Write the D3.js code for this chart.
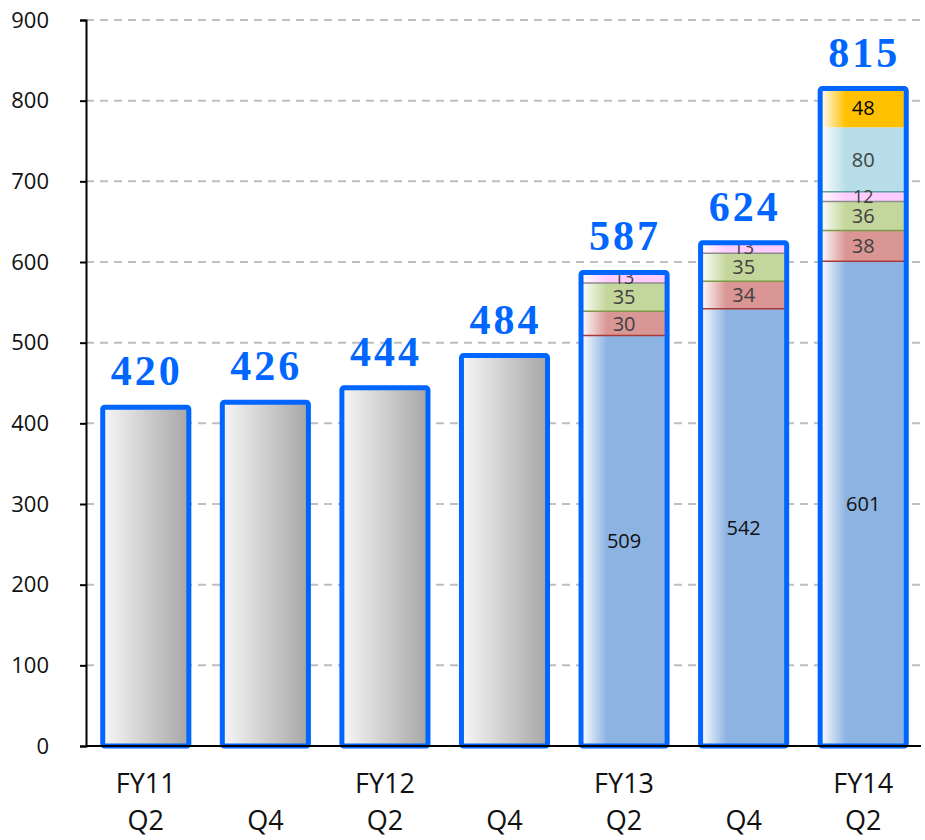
<!DOCTYPE html>
<html>
<head>
<meta charset="utf-8">
<script src="https://cdn.jsdelivr.net/npm/d3@7"></script>
<style>
  body { margin: 0; background: #fff; }
  svg { display: block; }
</style>
</head>
<body>
<div id="chart"></div>
<script>
// data
const yearLabels = ["FY11", "", "FY12", "", "FY13", "", "FY14"];
const quarterLabels = ["Q2", "Q4", "Q2", "Q4", "Q2", "Q4", "Q2"];
const totals = [420, 426, 444, 484, 587, 624, 815];
const oldValues = [420, 426, 444, 484, 0, 0, 0];     // gray bars
const baseValues = [0, 0, 0, 0, 509, 542, 601];       // blue part
const redValues = [0, 0, 0, 0, 30, 34, 38];
const greenValues = [0, 0, 0, 0, 35, 35, 36];
const pinkValues = [0, 0, 0, 0, 13, 13, 12];
const cyanValues = [0, 0, 0, 0, 0, 0, 80];
const orangeValues = [0, 0, 0, 0, 0, 0, 48];
const yTicks = [0, 100, 200, 300, 400, 500, 600, 700, 800, 900];

const W = 925, H = 840;
const svg = d3.select("#chart").append("svg")
  .attr("width", W).attr("height", H);

var x = d3.scaleBand()
  .domain(d3.range(totals.length))
  .range([86, 923])
  .paddingInner(0.28)
  .paddingOuter(0.14);
var y = d3.scaleLinear().domain([0, 900]).range([746, 20]);

// series config (styles)
const series = [
  {vals: oldValues,    fill: "#a6a6a6", line: "none",    text: null,      grad: "gray"},
  {vals: baseValues,   fill: "#8db3e2", line: "none",    text: "#111",    grad: "blue"},
  {vals: redValues,    fill: "#d99694", line: "#a83a37", text: "#404040", grad: "red"},
  {vals: greenValues,  fill: "#c3d69b", line: "#7f9a48", text: "#404040", grad: "green"},
  {vals: pinkValues,   fill: "#ffccff", line: "#8c8c8c", text: "#404040", grad: "pink"},
  {vals: cyanValues,   fill: "#b7dde8", line: "#5f9e9e", text: "#404040", grad: "cyan"},
  {vals: orangeValues, fill: "#ffc000", line: "none",    text: "#000",    grad: "orange"}
];

var defs = svg.append("defs");
series.forEach(function(s) {
  var g = defs.append("linearGradient").attr("id", "g_" + s.grad)
    .attr("x1", "0%").attr("x2", "100%").attr("y1", "0%").attr("y2", "0%");
  if (s.grad == "gray") {
    g.append("stop").attr("offset", "0%").attr("stop-color", "#f7f7f7");
    g.append("stop").attr("offset", "100%").attr("stop-color", "#a6a6a6");
  } else {
    g.append("stop").attr("offset", "0%").attr("stop-color", "#ffffff");
    g.append("stop").attr("offset", "30%").attr("stop-color", s.fill);
    g.append("stop").attr("offset", "100%").attr("stop-color", s.fill);
  }
});

// gridlines
svg.append("g").selectAll("line")
  .data(yTicks.filter(d => d > 0))
  .enter().append("line")
  .attr("x1", 86).attr("x2", W)
  .attr("y1", d => y(d)).attr("y2", d => y(d))
  .attr("stroke", "#bfbfbf").attr("stroke-width", 2)
  .attr("stroke-dasharray", "8,6");

// y axis
var yAxis = svg.append("g")
  .attr("transform", "translate(86,0)")
  .call(d3.axisLeft(y).tickValues(yTicks).tickSize(6).tickPadding(31).tickFormat(d3.format("d")));
yAxis.select(".domain").attr("stroke", "#000").attr("stroke-width", 2);
yAxis.selectAll(".tick line").attr("stroke", "#000").attr("stroke-width", 2);
yAxis.selectAll("text")
  .style("font-family", "'Open Sans', sans-serif")
  .style("font-size", "22px").attr("fill", "#111");

// stacked segments
var bw = x.bandwidth();
totals.forEach(function(t, i) {
  var acc = 0;
  series.forEach(function(s) {
    var v = s.vals[i];
    if (!v) return;
    var y0 = y(acc), y1 = y(acc + v);
    svg.append("rect")
      .attr("x", x(i)).attr("width", bw)
      .attr("y", y1).attr("height", y0 - y1)
      .attr("fill", "url(#g_" + s.grad + ")");
    if (s.line != "none") {
      svg.append("line")
        .attr("x1", x(i)).attr("x2", x(i) + bw)
        .attr("y1", y0).attr("y2", y0)
        .attr("stroke", s.line).attr("stroke-width", 1.5);
    }
    acc += v;
  });
});

// segment labels (drawn above the segments)
totals.forEach(function(t, i) {
  var acc = 0;
  series.forEach(function(s) {
    var v = s.vals[i];
    if (!v) return;
    if (s.text) {
      svg.append("text")
        .attr("x", x(i) + bw / 2)
        .attr("y", y(acc + v / 2))
        .attr("dy", "0.36em")
        .attr("text-anchor", "middle")
        .style("font-family", "'Open Sans', sans-serif")
        .style("font-size", v < 20 ? "18px" : "20px")
        .attr("fill", s.text)
        .text(v);
    }
    acc += v;
  });
});

// bar outlines
svg.append("g").selectAll("rect")
  .data(totals)
  .enter().append("rect")
  .attr("x", (d, i) => x(i)).attr("width", bw)
  .attr("y", d => y(d)).attr("height", d => y(0) - y(d))
  .attr("fill", "none")
  .attr("stroke", "#0066ff").attr("stroke-width", 5)
  .attr("rx", 2);

// bottom axis line
svg.append("line")
  .attr("x1", 86).attr("x2", W - 4)
  .attr("y1", y(0)).attr("y2", y(0))
  .attr("stroke", "#000").attr("stroke-width", 2);

// totals
svg.append("g").selectAll("text")
  .data(totals)
  .enter().append("text")
  .attr("x", (d, i) => x(i) + bw / 2 + 1)
  .attr("y", d => y(d) - 22)
  .attr("text-anchor", "middle")
  .style("font-family", "'Liberation Serif', serif")
  .style("font-weight", "bold")
  .style("font-size", "42px")
  .style("letter-spacing", "3px")
  .attr("fill", "#0066ff")
  .text(d => d);

// category labels
svg.append("g").selectAll("text")
  .data(yearLabels)
  .enter().append("text")
  .attr("x", (d, i) => x(i) + bw / 2)
  .attr("y", 793)
  .attr("text-anchor", "middle")
  .style("font-family", "'Open Sans', sans-serif")
  .style("font-size", "27px")
  .attr("fill", "#111")
  .text(d => d);
svg.append("g").selectAll("text")
  .data(quarterLabels)
  .enter().append("text")
  .attr("x", (d, i) => x(i) + bw / 2)
  .attr("y", 830)
  .attr("text-anchor", "middle")
  .style("font-family", "'Open Sans', sans-serif")
  .style("font-size", "27px")
  .attr("fill", "#111")
  .text(d => d);
</script>
</body>
</html>
